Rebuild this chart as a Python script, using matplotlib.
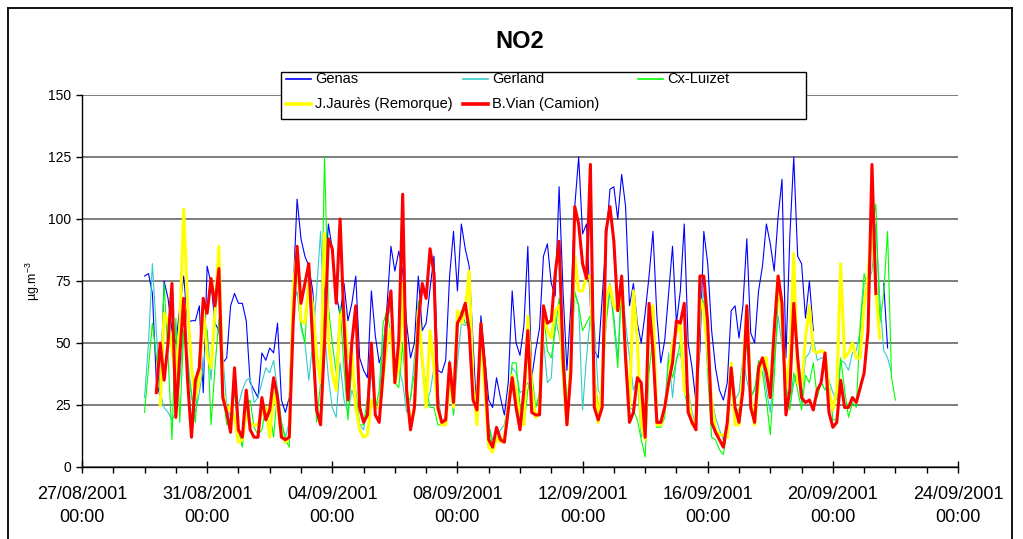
import numpy as np
import pandas as pd
import matplotlib
matplotlib.use("Agg")
import matplotlib.pyplot as plt
import matplotlib.dates as mdates
from matplotlib.lines import Line2D
from matplotlib.patches import Rectangle

nan = np.nan

# ---- data: NO2 (µg.m-3), 3-hourly readings from 29/08/2001 00:00 ----
start_time = "2001-08-29 00:00"
step = "3h"

genas = [
    77, 78, 70, 35, 28, 75, 68, 55,
    50, 64, 77, 58, 59, 59, 65, 30,
    81, 74, 58, 55, 42, 44, 65, 70,
    66, 66, 59, 34, 31, 28, 46, 43,
    48, 46, 58, 27, 22, 28, 71, 108,
    92, 85, 81, 71, 45, 36, 71, 98,
    88, 70, 61, 74, 59, 66, 77, 44,
    39, 36, 71, 53, 42, 47, 65, 89,
    79, 87, 79, 58, 44, 50, 77, 55,
    58, 72, 85, 39, 38, 43, 77, 95,
    71, 98, 88, 81, 50, 19, 61, 44,
    27, 24, 36, 28, 21, 34, 71, 50,
    45, 57, 89, 36, 47, 56, 85, 90,
    74, 69, 113, 71, 39, 65, 105, 125,
    94, 98, 65, 47, 44, 68, 91, 112,
    113, 100, 118, 105, 65, 74, 58, 50,
    62, 77, 95, 61, 42, 51, 70, 89,
    58, 71, 98, 50, 40, 26, 47, 95,
    82, 55, 40, 31, 27, 34, 63, 65,
    52, 65, 92, 54, 50, 71, 81, 98,
    90, 79, 101, 116, 44, 93, 125, 85,
    82, 60, 75, 55, nan, nan, nan, nan,
    nan, nan, nan, nan, nan, nan, nan, nan,
    nan, nan, nan, nan, nan, 74, 48, nan,
    nan,
]

gerland = [
    28, 50, 82, 55, 30, 24, 22, 19,
    22, 35, 55, 45, 28, 22, 30, 40,
    55, 35, 60, 75, 45, 25, 20, 30,
    25, 31, 35, 36, 26, 28, 34, 40,
    38, 43, 31, 18, 12, 18, 65, 71,
    56, 50, 35, 50, 71, 95, 55, 36,
    24, 20, 42, 27, 22, 31, 26, 17,
    15, 24, 38, 24, 27, 51, 59, 65,
    38, 40, 34, 22, 27, 44, 58, 40,
    26, 30, 40, 31, 17, 21, 43, 21,
    42, 58, 57, 59, 38, 17, 55, 38,
    17, 11, 11, 15, 17, 27, 40, 38,
    30, 31, 34, 31, 24, 28, 51, 34,
    36, 61, 53, 44, 24, 38, 71, 65,
    23, 44, 61, 58, 31, 28, 58, 71,
    61, 44, 74, 58, 44, 31, 36, 12,
    17, 58, 55, 20, 17, 24, 46, 28,
    44, 46, 36, 31, 22, 17, 58, 71,
    51, 28, 20, 15, 11, 17, 42, 27,
    30, 44, 35, 28, 32, 35, 43, 31,
    22, 42, 61, 49, 28, 24, 34, 39,
    26, 44, 46, 52, 43, 44, 44, 35,
    30, 27, 43, 42, 39, 46, 47, 55,
    74, 74, 79, 98, 68, 47, 44, 38,
    nan,
]

cx_luizet = [
    22, 40, 58, 45, 30, 74, 45, 11,
    60, 18, 55, 40, 30, 18, 45, 60,
    55, 17, 40, 60, 30, 17, 20, 30,
    15, 8, 24, 27, 16, 13, 15, 24,
    22, 12, 31, 18, 11, 8, 65, 82,
    58, 50, 77, 46, 18, 34, 125, 65,
    50, 38, 65, 40, 19, 40, 31, 17,
    17, 28, 44, 23, 31, 58, 63, 53,
    34, 32, 50, 26, 28, 38, 67, 44,
    32, 24, 24, 17, 17, 19, 42, 21,
    58, 63, 58, 59, 31, 17, 56, 36,
    17, 8, 11, 12, 11, 24, 42, 42,
    25, 17, 31, 38, 24, 30, 63, 47,
    44, 55, 68, 55, 24, 44, 70, 65,
    55, 58, 61, 38, 24, 31, 58, 74,
    58, 40, 74, 44, 24, 23, 19, 11,
    4, 38, 54, 16, 16, 20, 43, 36,
    43, 50, 31, 23, 17, 20, 66, 67,
    38, 12, 11, 7, 5, 15, 40, 23,
    23, 36, 50, 28, 31, 43, 38, 27,
    13, 36, 68, 65, 34, 23, 38, 31,
    23, 37, 34, 42, 28, 34, 31, 35,
    19, 19, 44, 31, 20, 26, 24, 58,
    78, 71, 95, 106, 58, 70, 95, 36,
    27,
]

jaures = [
    nan, nan, nan, nan, 25, 62, 58, 48,
    35, 55, 104, 65, 40, 28, 35, 65,
    45, 40, 62, 89, 30, 22, 25, 20,
    10, 11, 22, 17, 17, 17, 22, 24,
    12, 30, 24, 13, 10, 12, 71, 88,
    59, 58, 74, 65, 45, 34, 94, 51,
    38, 31, 61, 63, 44, 46, 24, 15,
    12, 13, 27, 24, 24, 36, 50, 56,
    34, 40, 74, 31, 17, 23, 63, 44,
    24, 55, 40, 24, 17, 17, 36, 24,
    63, 58, 63, 79, 34, 17, 54, 31,
    8, 6, 12, 10, 12, 24, 37, 31,
    19, 17, 61, 31, 20, 23, 63, 55,
    52, 63, 65, 38, 17, 44, 85, 71,
    71, 77, 77, 34, 18, 34, 68, 73,
    65, 63, 71, 44, 24, 71, 51, 17,
    11, 61, 65, 17, 17, 24, 34, 50,
    54, 58, 31, 28, 17, 19, 68, 63,
    47, 26, 15, 13, 13, 12, 42, 17,
    17, 38, 65, 28, 17, 34, 44, 44,
    28, 55, 77, 58, 32, 44, 86, 34,
    32, 52, 65, 47, 46, 47, 46, 31,
    23, 31, 82, 44, 46, 50, 44, 44,
    65, 77, 100, 71, 52, nan, nan, nan,
    nan,
]

vian = [
    nan, nan, nan, 30, 50, 35, 50, 74,
    20, 45, 68, 35, 12, 35, 40, 68,
    62, 76, 65, 80, 28, 22, 14, 40,
    15, 12, 31, 15, 12, 12, 28, 19,
    23, 36, 28, 12, 11, 12, 58, 89,
    66, 74, 82, 50, 23, 17, 50, 92,
    88, 66, 100, 58, 27, 50, 65, 24,
    18, 21, 50, 21, 18, 38, 61, 71,
    34, 51, 110, 31, 15, 24, 58, 74,
    68, 88, 78, 24, 18, 19, 42, 26,
    58, 61, 66, 55, 27, 23, 58, 40,
    11, 8, 16, 11, 10, 23, 36, 24,
    15, 31, 55, 22, 21, 21, 65, 58,
    59, 78, 91, 44, 17, 38, 105, 98,
    82, 76, 122, 24, 19, 24, 95, 105,
    91, 63, 77, 44, 18, 22, 36, 34,
    12, 66, 47, 18, 18, 24, 34, 42,
    59, 58, 66, 22, 18, 15, 77, 77,
    58, 18, 14, 11, 8, 18, 40, 24,
    18, 31, 65, 24, 18, 40, 44, 38,
    28, 55, 77, 66, 21, 31, 66, 44,
    28, 26, 27, 23, 31, 34, 46, 22,
    16, 18, 35, 24, 24, 28, 26, 32,
    38, 55, 122, 70, nan, nan, nan, nan,
    nan,
]

series_names = ["Genas", "Gerland", "Cx-Luizet", "J.Jaurès (Remorque)", "B.Vian (Camion)"]
series_values = [genas, gerland, cx_luizet, jaures, vian]
series_colors = ["#0000FF", "#33CCCC", "#00FF00", "#FFFF00", "#FF0000"]
series_widths = [0.8, 0.8, 0.8, 2.2, 2.2]

x_start, x_end = "2001-08-27", "2001-09-24"
y_ticks = [0, 25, 50, 75, 100, 125, 150]

# ---- figure ----
plt.rcParams["font.family"] = ["Liberation Sans", "DejaVu Sans"]
plt.rcParams["mathtext.fontset"] = "custom"
plt.rcParams["mathtext.rm"] = "Liberation Sans"
plt.rcParams["mathtext.it"] = "Liberation Sans"

W, H = 1023, 539
fig = plt.figure(figsize=(W / 100, H / 100), dpi=100)


def fx(x):
    return x / W


def fy(y):
    return 1 - y / H


ax = fig.add_axes([fx(82), fy(467), fx(958) - fx(82), fy(95) - fy(467)])

times = pd.date_range(start_time, periods=len(genas), freq=step)
for name, vals, col, lw in zip(series_names, series_values, series_colors, series_widths):
    ax.plot(times, vals, color=col, lw=lw, label=name, solid_joinstyle="round")

ax.set_xlim(pd.Timestamp(x_start), pd.Timestamp(x_end))
ax.set_ylim(0, 150)
ax.set_yticks(y_ticks)
ax.yaxis.grid(True, color="#5a5a5a", lw=1.1)
ax.set_axisbelow(True)

ax.xaxis.set_major_locator(mdates.DayLocator(bymonthday=None, interval=4))
major_days = pd.date_range(x_start, x_end, freq="4D")
ax.set_xticks(major_days)
ax.xaxis.set_minor_locator(mdates.DayLocator())
ax.xaxis.set_major_formatter(mdates.DateFormatter("%d/%m/%Y\n%H:%M"))

for s in ["top", "right"]:
    ax.spines[s].set_visible(False)
for s in ["left", "bottom"]:
    ax.spines[s].set_color("black")
    ax.spines[s].set_linewidth(1.0)

ax.tick_params(axis="x", which="major", direction="inout", length=9, width=1,
               labelsize=13, pad=9)
ax.tick_params(axis="x", which="minor", direction="out", length=4, width=1)
ax.tick_params(axis="y", which="major", direction="out", length=4, width=1,
               labelsize=10, pad=4)
for lab in ax.get_xticklabels():
    lab.set_linespacing(1.45)

# title and axis label
fig.text(fx(520), fy(42), "NO2", ha="center", va="center", fontsize=17, fontweight="bold")
fig.text(fx(33), fy(281), "µg.m$^{-3}$", rotation=90, ha="center", va="center", fontsize=9)

# legend box (drawn like the original two-row legend)
fig.add_artist(Rectangle((fx(281), fy(119)), fx(806) - fx(281), fy(72) - fy(119),
                         transform=fig.transFigure, fill=True, facecolor="white",
                         edgecolor="black", lw=1.0, zorder=5))
legend_pos = [(286, 79), (463, 79), (638, 79), (286, 104), (463, 104)]
for (lx, ly), name, col, lw in zip(legend_pos, series_names, series_colors, series_widths):
    fig.add_artist(Line2D([fx(lx), fx(lx + 25)], [fy(ly), fy(ly)], transform=fig.transFigure,
                          color=col, lw=lw + 0.4, zorder=6))
    fig.text(fx(lx + 29), fy(ly), name, ha="left", va="center", fontsize=10.5, zorder=6)

# outer chart border
for xs, ys in [([8, 8], [8, 545]), ([8, 1012], [8, 8]), ([1012, 1012], [8, 545])]:
    fig.add_artist(Line2D([fx(v) for v in xs], [fy(v) for v in ys], transform=fig.transFigure,
                          color="black", lw=1.3))

fig.savefig("out.png", dpi=100)
